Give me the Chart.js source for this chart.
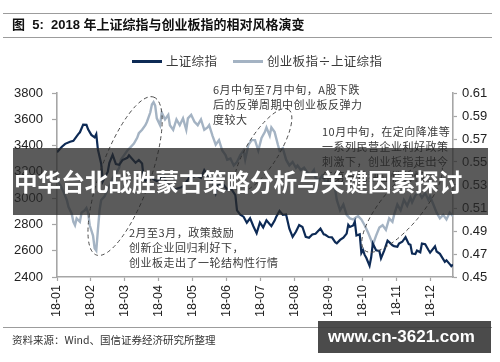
<!DOCTYPE html>
<html><head><meta charset="utf-8">
<script src="https://cdn.jsdelivr.net/npm/chart.js@4.4.1/dist/chart.umd.min.js"></script>
<style>
html,body{margin:0;padding:0;background:#fff;}
#wrap{position:relative;width:500px;height:362px;overflow:hidden;font-family:"Noto Sans CJK SC","Liberation Sans",sans-serif;}
#c{position:absolute;left:0;top:0;}
.abs{position:absolute;white-space:nowrap;}
.rule{position:absolute;left:3px;width:489px;height:0;border-top:1px solid #9c9c9c;}
.note{position:absolute;white-space:nowrap;font-size:11px;line-height:15px;color:#3a3a3a;letter-spacing:0.5px;}
</style></head>
<body>
<div id="wrap">
  <canvas id="c" width="500" height="362"></canvas>
  <div class="rule" style="top:13px"></div>
  <div class="abs" style="left:12px;top:17px;font:bold 13px/16px 'Liberation Sans','Noto Sans CJK SC';color:#111">图&nbsp; 5:&nbsp; 2018 年上证综指与创业板指的相对风格演变</div>
  <div class="rule" style="top:37px"></div>
  <div id="legend"></div>
  <div class="note" style="left:213px;top:82px">6月中旬至7月中旬，A股下跌<br>后的反弹周期中创业板反弹力<br>度较大</div>
  <div class="note" style="left:322px;top:124px">10月中旬，在定向降准等<br>一系列民营企业利好政策<br>刺激下，创业板指走出今<br>年第一轮独立性行情</div>
  <div class="note" style="left:129px;top:225px">2月至3月，政策鼓励<br>创新企业回归利好下，<br>创业板走出了一轮结构性行情</div>
  <div class="abs" style="left:13px;top:148px;width:475px;height:67px;background:rgba(40,40,40,0.76)"></div>
  <div class="abs" style="left:14px;top:148px;height:67px;font:bold 23.6px/67px 'Noto Sans CJK SC';color:#fff">中华台北战胜蒙古策略分析与关键因素探讨</div>
  <div class="rule" style="top:327px"></div>
  <div class="abs" style="left:12px;top:333px;font:10.5px/14px 'Noto Sans CJK SC';color:#333">资料来源：Wind、国信证券经济研究所整理</div>
  <div class="abs" style="left:318px;top:321px;width:173px;height:32px;background:rgba(60,60,60,0.92)"></div>
  <div class="abs" style="left:328px;top:321px;font:bold 17px/32px 'Liberation Sans';color:#fff">www.cn-3621.com</div>
</div>
<script>
// ---- data ----
const seriesNames = ['上证综指', '创业板指÷上证综指'];
const xTickLabels = ['18-01','18-02','18-03','18-04','18-05','18-06','18-07','18-08','18-09','18-10','18-11','18-12'];
const leftTicks = [2400,2600,2800,3000,3200,3400,3600,3800];
const rightTicks = [0.45,0.47,0.49,0.51,0.53,0.55,0.57,0.59,0.61];

// trading-day index (0 = 2018-01-02) and close of 上证综指
const shDay = [0,3,5,8,10,13,14,16,18,19,21,23,24,25,27,28,29,31,32,34,36,38,40,43,44,48,50,52,53,54,57,60,61,62,65,67,69,71,72,76,78,81,84,85,88,90,93,95,97,98,101,104,106,109,110,112,114,116,118,120,122,124,126,128,131,133,134,136,138,140,142,144,146,148,150,152,154,156,158,161,163,164,166,168,170,171,173,175,177,178,179,181,182,183,185,186,187,188,189,191,192,193,195,197,198,200,202,203,205,206,208,209,211,213,215,216,217,219,220,222,223,225,227,228,231,232,234,236,237,238,240,241,242];
const shVal = [3349,3391,3413,3429,3436,3487,3501,3559,3558,3523,3481,3462,3487,3370,3262,3129,3154,3199,3268,3329,3259,3254,3290,3307,3326,3269,3290,3263,3152,3133,3160,3136,3131,3138,3180,3110,3091,3071,3068,3082,3101,3161,3163,3174,3154,3214,3155,3135,3041,3095,3114,3067,3080,3022,2907,2875,2859,2813,2847,2786,2733,2815,2777,2831,2787,2829,2859,2903,2873,2876,2768,2705,2744,2795,2781,2705,2698,2724,2729,2769,2725,2721,2704,2702,2665,2656,2682,2699,2730,2797,2781,2792,2821,2716,2725,2583,2606,2568,2546,2486,2550,2654,2603,2598,2542,2603,2676,2665,2641,2635,2630,2654,2668,2703,2650,2645,2579,2575,2601,2588,2654,2649,2605,2585,2634,2594,2576,2536,2516,2527,2498,2483,2494];

// trading-day index and 创业板指÷上证综指
const ratioDay = [0,2,4,6,7,9,10,11,12,14,15,17,18,19,20,22,23,24,25,26,27,29,31,33,34,36,38,39,41,43,45,47,49,50,52,54,55,57,58,59,60,61,63,64,66,68,69,71,73,75,77,79,80,82,84,86,88,90,92,93,95,97,99,101,103,104,106,108,110,112,114,115,117,119,121,123,125,127,128,130,131,133,135,136,138,140,142,144,146,147,149,151,153,155,157,158,160,162,164,166,168,170,171,173,175,177,179,181,182,184,186,188,190,192,193,195,197,199,201,203,205,206,208,210,212,214,216,217,219,221,223,225,227,228,230,232,234,236,238,240,242];
const ratioVal = [0.533,0.530,0.524,0.517,0.511,0.505,0.498,0.495,0.501,0.498,0.506,0.508,0.510,0.506,0.495,0.486,0.475,0.473,0.491,0.508,0.517,0.520,0.526,0.532,0.536,0.540,0.545,0.552,0.556,0.560,0.563,0.566,0.571,0.575,0.578,0.582,0.585,0.593,0.600,0.602,0.599,0.588,0.582,0.593,0.587,0.591,0.582,0.578,0.587,0.582,0.588,0.578,0.588,0.591,0.585,0.582,0.587,0.578,0.580,0.582,0.573,0.565,0.569,0.560,0.556,0.552,0.553,0.547,0.550,0.556,0.560,0.552,0.565,0.569,0.569,0.560,0.571,0.576,0.580,0.573,0.580,0.576,0.565,0.560,0.562,0.552,0.547,0.550,0.545,0.547,0.543,0.545,0.541,0.539,0.543,0.536,0.534,0.538,0.533,0.534,0.530,0.526,0.517,0.508,0.513,0.504,0.501,0.500,0.501,0.503,0.500,0.495,0.489,0.482,0.478,0.486,0.493,0.495,0.491,0.501,0.498,0.504,0.513,0.508,0.517,0.512,0.519,0.515,0.521,0.524,0.519,0.523,0.517,0.520,0.513,0.506,0.501,0.504,0.500,0.506,0.503];

// ---- styling / layout ----
const COLORS = ['#0d2a55', '#a4b3c3'];
const AXIS = '#a6a6a6';
const TICK_EVERY = 20.75;   // trading days between axis labels
const ellipses = [
  {day: 41.6, value: 3168, rx: 84, ry: 25, rot: -70},
  {day: 125.9, value: 3366, rx: 48, ry: 16, rot: -58},
  {day: 210.9, value: 2940, rx: 58, ry: 20, rot: -50}
];

// legend (HTML, built from series)
const legendPos = [{line: 132, text: 166}, {line: 233, text: 267}];
const lg = document.getElementById('legend');
seriesNames.forEach((n, i) => {
  const l = document.createElement('div');
  l.className = 'abs';
  l.style.cssText = `left:${legendPos[i].line}px;top:60px;width:30px;height:2.5px;background:${COLORS[i]}`;
  lg.appendChild(l);
  const t = document.createElement('div');
  t.className = 'abs';
  t.style.cssText = `left:${legendPos[i].text}px;top:53px;font:12.5px/16px 'Noto Sans CJK SC';color:#3a3a3a;letter-spacing:0.3px`;
  t.textContent = n;
  lg.appendChild(t);
});

const ellipsePlugin = {
  id: 'ellipses',
  afterDatasetsDraw(chart) {
    const {ctx, scales} = chart;
    ctx.save();
    ctx.setLineDash([4, 3]);
    ctx.strokeStyle = '#4a4a4a';
    ctx.lineWidth = 1;
    for (const e of ellipses) {
      ctx.beginPath();
      ctx.ellipse(scales.x.getPixelForValue(e.day), scales.y.getPixelForValue(e.value), e.rx, e.ry, e.rot * Math.PI / 180, 0, Math.PI * 2);
      ctx.stroke();
    }
    ctx.restore();
  }
};

const tickFont = {family: "'Liberation Sans', Arial, sans-serif", size: 13};
new Chart(document.getElementById('c'), {
  type: 'line',
  data: {
    datasets: [
      {label: seriesNames[0], data: shDay.map((d, i) => ({x: d, y: shVal[i]})), yAxisID: 'y',
       borderColor: COLORS[0], borderWidth: 2.2, pointRadius: 0, tension: 0, fill: false},
      {label: seriesNames[1], data: ratioDay.map((d, i) => ({x: d, y: ratioVal[i]})), yAxisID: 'y2',
       borderColor: COLORS[1], borderWidth: 2.4, pointRadius: 0, tension: 0, fill: false}
    ]
  },
  options: {
    responsive: false, animation: false, devicePixelRatio: 1,
    layout: {padding: {left: 0, right: 0, top: 93, bottom: 0}},
    plugins: {legend: {display: false}, tooltip: {enabled: false}},
    scales: {
      x: {
        type: 'linear', min: 0, max: 242,
        afterBuildTicks: s => { s.ticks = xTickLabels.map((_, k) => ({value: k * TICK_EVERY})); },
        afterFit: s => { s.height = 85; },
        grid: {drawOnChartArea: false, drawTicks: true, tickLength: 4, tickColor: AXIS, tickWidth: 1.2},
        border: {color: AXIS, width: 1.6},
        ticks: {autoSkip: false, minRotation: 90, maxRotation: 90, padding: 4, color: '#222',
                font: {family: tickFont.family, size: 12.5}, callback: (v, i) => xTickLabels[i]}
      },
      y: {
        position: 'left', min: 2400, max: 3800,
        afterBuildTicks: s => { s.ticks = leftTicks.map(v => ({value: v})); },
        afterFit: s => { s.width = 57; },
        grid: {drawOnChartArea: false, drawTicks: true, tickLength: 5, tickColor: AXIS, tickWidth: 1.2},
        border: {color: AXIS, width: 1.6},
        ticks: {padding: 9, color: '#222', font: tickFont, callback: v => String(v)}
      },
      y2: {
        position: 'right', min: 0.45, max: 0.61,
        afterBuildTicks: s => { s.ticks = rightTicks.map(v => ({value: v})); },
        afterFit: s => { s.width = 47; },
        grid: {drawOnChartArea: false, drawTicks: true, tickLength: 4, tickColor: AXIS, tickWidth: 1.2},
        border: {color: AXIS, width: 1.6},
        ticks: {padding: 5, color: '#222', font: tickFont, callback: v => v.toFixed(2)}
      }
    }
  },
  plugins: [ellipsePlugin]
});
</script>
</body></html>
